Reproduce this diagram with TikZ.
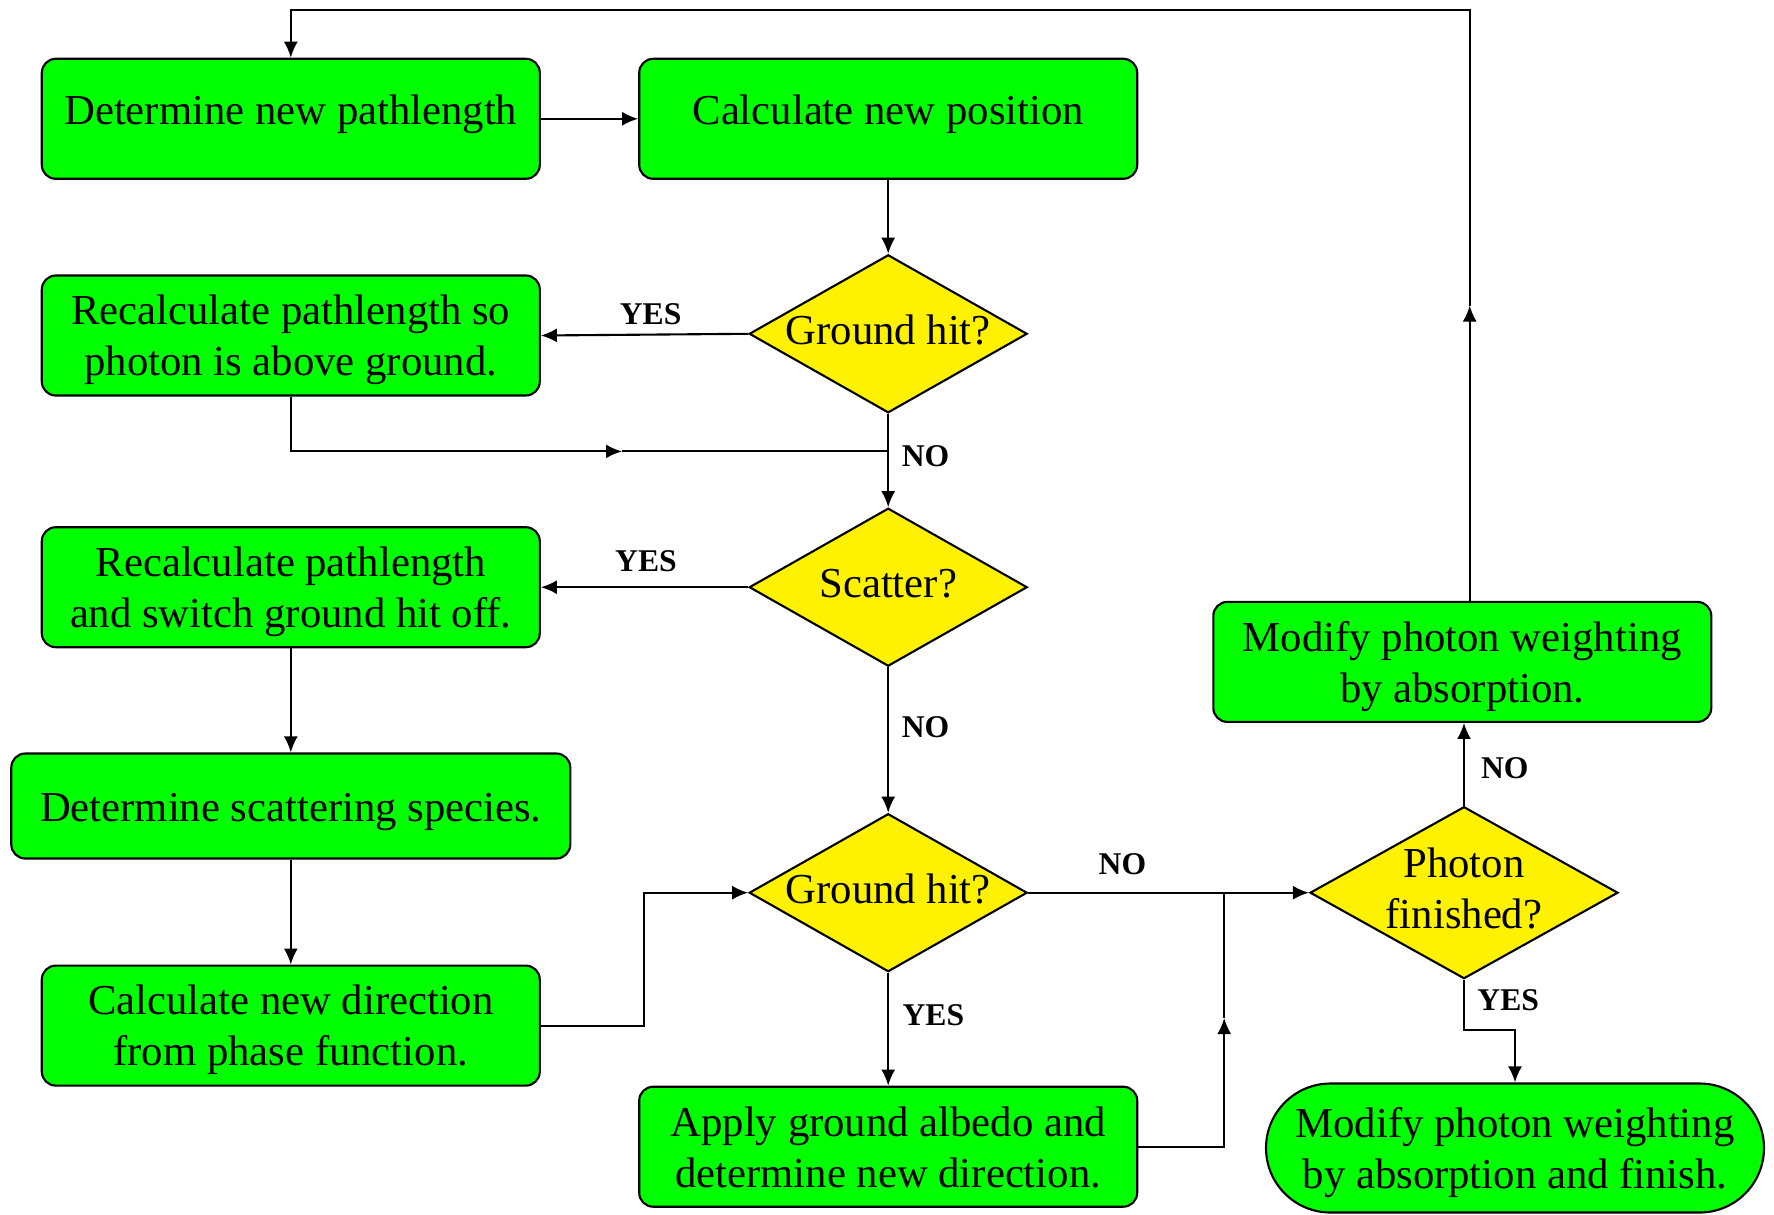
\documentclass[tikz,border=0pt]{standalone}
\usepackage{fontspec}
\setmainfont{Liberation Serif}
\usetikzlibrary{arrows.meta,shapes.geometric,shapes.misc}

\begin{document}
\begin{tikzpicture}[x=0.1mm, y=-0.1mm, line width=0.6pt,
      -{Latex[length=1.6mm,width=1.4mm]},
      every node/.append style={align=center,font=\fontsize{12.15}{14.5}\selectfont}]
    \tikzstyle{stepbox} = [draw, fill=green, rounded corners=1.4mm, inner sep=0pt,
      minimum width=49.8mm, minimum height=12mm, text depth=-0.2mm]
    \tikzstyle{oneline} = [text height=2.9mm, text depth=1.8mm]
    \tikzstyle{test} = [draw, fill=yellow, diamond, aspect=1.75, inner sep=-1.5mm,
      minimum width=27.8mm, minimum height=15.8mm, text depth=0.8mm]
    \tikzstyle{stop} = [draw, fill=green, rounded rectangle, inner sep=0pt,
      minimum width=49.8mm, minimum height=12.9mm, text depth=-0.2mm]
    \tikzstyle{answer} = [font=\fontsize{9}{10}\selectfont\bfseries]
    \useasboundingbox (0,0) rectangle (1774,1214);
    \node (pathlen) [stepbox, oneline] at (290.8,118.8) {Determine new pathlength};
    \node (position) [stepbox, oneline] at (888.2,118.8) {Calculate new position};
    \node (hitA) [test] at (888.2,333.8) {Ground hit?};
    \node (abovegnd) [stepbox] at (290.8,335.5) {Recalculate pathlength so\\photon is above ground.};
    \node (scatter) [test] at (888.2,587.2) {Scatter?};
    \node (hitoff) [stepbox] at (290.8,587.2) {Recalculate pathlength\\and switch ground hit off.};
    \node (species) [stepbox, minimum width=55.9mm, minimum height=10.5mm,
      text height=4mm, text depth=0.9mm] at (290.8,806) {Determine scattering species.};
    \node (phasefn) [stepbox] at (290.8,1025.6) {Calculate new direction\\from phase function.};
    \node (hitB) [test] at (888.2,892.7) {Ground hit?};
    \node (albedo) [stepbox] at (888.2,1146.7) {Apply ground albedo and\\determine new direction.};
    \node (finished) [test, aspect=1.79, minimum width=30.8mm, minimum height=17.2mm,
      text depth=0.9mm] at (1464,892.7) {Photon\\finished?};
    \node (absorb) [stepbox] at (1462.3,661.9) {Modify photon weighting\\by absorption.};
    \node (finish) [stop] at (1515,1148) {Modify photon weighting\\by absorption and finish.};

    \coordinate (abovegnd_mid) at (622,451.4);
    \coordinate (abovegnd_join) at (888.2,451.4);
    \coordinate (phasefn_turn) at (643.8,0);
    \coordinate (albedo_mid) at (1224.2,1018);
    \coordinate (albedo_join) at (1224.2,892.7);
    \coordinate (finished_turn) at (1464,1029.6);
    \coordinate (absorb_mid) at (1469.7,305.5);
    \coordinate (loop_top) at (290.8,10.2);

    \draw (pathlen) -- (position);
    \draw (position) -- (hitA);
    \draw (hitA.west) -- (abovegnd.east);
    \draw (abovegnd.south) |- (abovegnd_mid);
    \draw[-] (abovegnd_mid) -- (abovegnd_join);
    \draw (hitA) -- (scatter);
    \draw (scatter.west) -- (hitoff.east);
    \draw (hitoff) -- (species);
    \draw (species) -- (phasefn);
    \draw (phasefn.east) -| (phasefn_turn |- hitB.west) -- (hitB.west);
    \draw (scatter) -- (hitB);
    \draw (hitB) -- (albedo);
    \draw (hitB.east) -- (finished.west);
    \draw (albedo.east) -| (albedo_mid);
    \draw[-] (albedo_mid) -- (albedo_join);
    \draw (finished) -- (finished |- absorb.south);
    \draw (finished.south) -- (finished_turn) -| (finish.north);
    \draw (absorb.north -| absorb_mid) -- (absorb_mid);
    \draw (absorb_mid) |- (loop_top) -- (pathlen.north);

    \node (yesA) [answer] at (650.6,314.5) {YES};
    \node (noA) [answer] at (925.5,456) {NO};
    \node (yesB) [answer] at (646,561.2) {YES};
    \node (noB) [answer] at (925.5,727.5) {NO};
    \node (yesC) [answer] at (933.4,1014.9) {YES};
    \node (noC) [answer] at (1122.4,864.4) {NO};
    \node (noD) [answer] at (1504.8,768.2) {NO};
    \node (yesD) [answer] at (1508.2,1000.2) {YES};
  \end{tikzpicture}
\end{document}
